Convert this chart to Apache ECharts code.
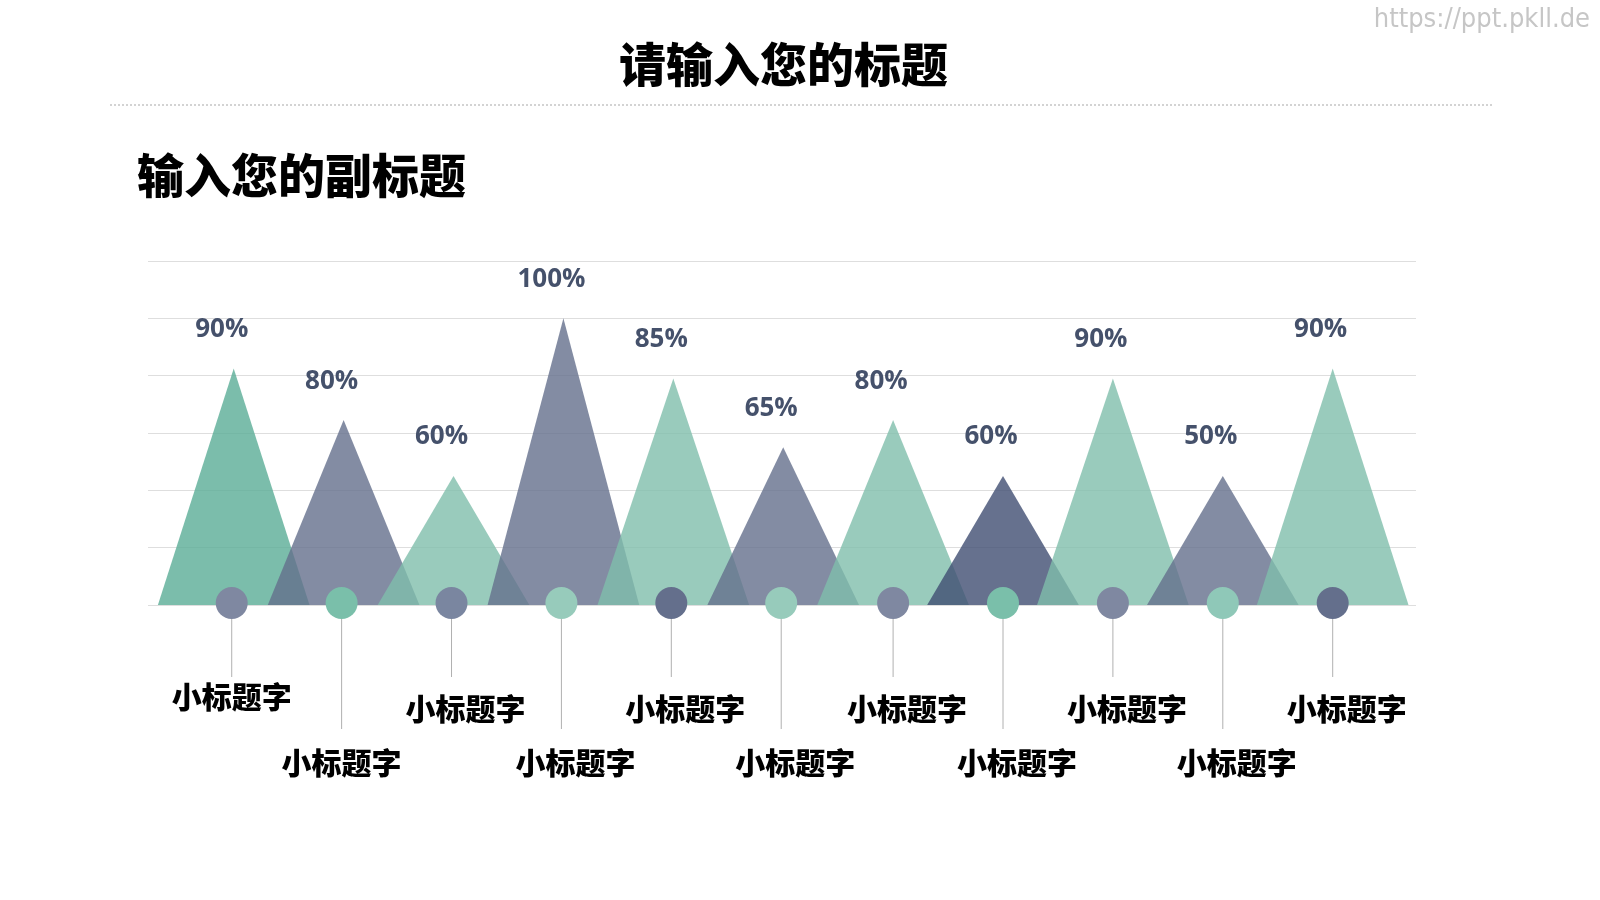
<!DOCTYPE html>
<html>
<head>
<meta charset="utf-8">
<script src="https://cdn.jsdelivr.net/npm/echarts@6/dist/echarts.min.js"></script>
<style>
html,body{margin:0;padding:0;background:#fff;}
#chart{width:1600px;height:900px;}
</style>
</head>
<body>
<div id="chart"></div>
<script>
// ---- data ----
const categories = ['小标题字','小标题字','小标题字','小标题字','小标题字','小标题字','小标题字','小标题字','小标题字','小标题字','小标题字'];
const heights = [82.5, 64.5, 45, 100, 79, 55, 64.5, 45, 79, 45, 82.5];
const valueLabels = ['90%','80%','60%','100%','85%','65%','80%','60%','90%','50%','90%'];
const yTicks = [0, 20, 40, 60, 80, 100, 120];

// ---- styles ----
const triColors = ['#5aac96','#646f8c','#80beab','#646f8c','#80beab','#646f8c','#80beab','#404e72','#80beab','#646f8c','#80beab'];
const circleColors = ['#7f88a1','#7abfaa','#7a86a0','#97cbbb','#646f8c','#97cbbb','#7f88a1','#7abfaa','#7f88a1','#8fc8b8','#646f8c'];

const chart = echarts.init(document.getElementById('chart'), null, {renderer:'canvas'});

const triData = heights.map((h, i) => [i, h]);
const baseData = categories.map((c, i) => [i, 0]);
const HALF = 0.69;

const option = {
  backgroundColor: '#ffffff',
  animation: false,
  title: [
    {
      text: '请输入您的标题', left: 619, top: 41, padding: 0,
      textStyle: {fontSize: 47, fontWeight: 900, color: '#000', fontFamily: '"Noto Sans CJK SC", sans-serif'}
    },
    {
      text: '输入您的副标题', left: 137, top: 152, padding: 0,
      textStyle: {fontSize: 47, fontWeight: 900, color: '#000', fontFamily: '"Noto Sans CJK SC", sans-serif'}
    }
  ],
  graphic: [
    {type: 'line', shape: {x1: 110, y1: 105, x2: 1492, y2: 105}, style: {stroke: '#a8a8a8', lineWidth: 1, lineDash: [2, 2]}},
    {type: 'text', right: 10, top: 6, style: {text: 'https://ppt.pkll.de', fontSize: 27, fill: '#c6c6c6', fontFamily: '"DejaVu Sans Condensed", "Noto Sans", sans-serif'}}
  ],
  grid: {left: 148, right: 184, top: 261, bottom: 295, containLabel: false},
  xAxis: {type: 'value', min: -0.78, max: 10.758, show: false},
  yAxis: {
    type: 'value', min: yTicks[0], max: yTicks[yTicks.length - 1], interval: 20,
    axisLabel: {show: false}, axisTick: {show: false}, axisLine: {show: false},
    splitLine: {lineStyle: {color: '#dedede', width: 1}}
  },
  series: [
    {
      type: 'custom', z: 2,
      data: triData,
      renderItem: function (params, api) {
        const i = api.value(0), h = api.value(1);
        const l = api.coord([i - HALF, 0]);
        const p = api.coord([i, h]);
        const r = api.coord([i + HALF, 0]);
        return {
          type: 'polygon',
          shape: {points: [l, p, r]},
          style: {fill: triColors[i], opacity: 0.8}
        };
      }
    },
    {
      type: 'custom', z: 5,
      data: triData,
      renderItem: function (params, api) {
        const i = api.value(0), h = api.value(1);
        const p = api.coord([i, h]);
        return {
          type: 'text',
          style: {
            text: valueLabels[i], x: p[0] - 12, y: p[1] - 39,
            align: 'center', verticalAlign: 'middle',
            fontSize: 26, fontWeight: 'bold', fontFamily: '"Open Sans", sans-serif', fill: '#45516b'
          }
        };
      }
    },
    {
      type: 'custom', z: 4,
      data: baseData,
      renderItem: function (params, api) {
        const i = api.value(0);
        const b = api.coord([i, 0]);
        const odd = i % 2 === 1;
        const cy = b[1] - 2;
        const cx = b[0] - (i < 6 ? 2 : 0);
        const lineEnd = b[1] + (odd ? 124 : 72);
        const labelY = b[1] + (odd ? 158 : (i === 0 ? 92 : 104));
        const labelX = cx + (i < 2 ? 0 : 14);
        return {
          type: 'group',
          children: [
            {type: 'line', shape: {x1: cx, y1: cy + 15, x2: cx, y2: lineEnd}, style: {stroke: '#b0b0b0', lineWidth: 1}},
            {type: 'circle', shape: {cx: cx, cy: cy, r: 16}, style: {fill: circleColors[i]}},
            {type: 'text', style: {
              text: categories[i], x: labelX, y: labelY, align: 'center', verticalAlign: 'middle',
              fontSize: 30, fontWeight: 900, fontFamily: '"Noto Sans CJK SC", sans-serif', fill: '#000'
            }}
          ]
        };
      }
    }
  ]
};
chart.setOption(option);
</script>
</body>
</html>
